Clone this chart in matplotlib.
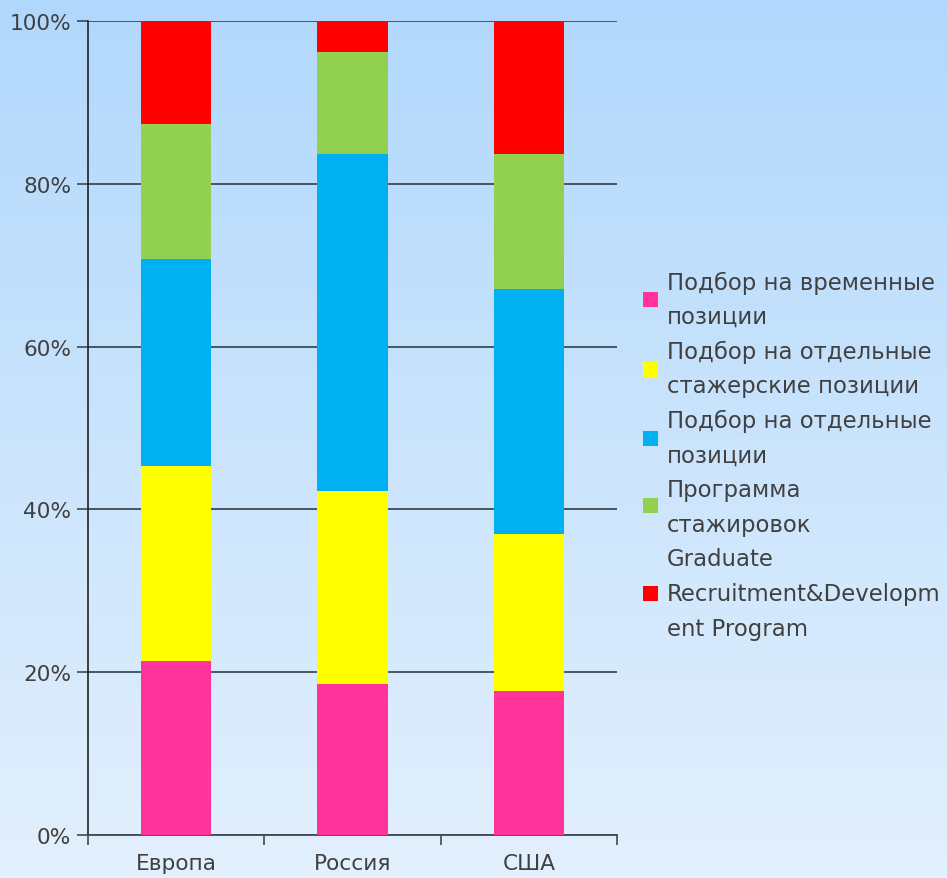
import numpy as np
import matplotlib
matplotlib.use("Agg")
import matplotlib.pyplot as plt
from matplotlib.patches import Rectangle
from matplotlib.ticker import FuncFormatter

categories = ["Европа", "Россия", "США"]
series_labels = [
    "Подбор на временные\nпозиции",
    "Подбор на отдельные\nстажерские позиции",
    "Подбор на отдельные\nпозиции",
    "Программа\nстажировок\nGraduate",
    "Recruitment&Developm\nent Program",
]
temp_positions = [21.4, 18.5, 17.7]
intern_positions = [23.9, 23.8, 19.3]
separate_positions = [25.5, 41.3, 30.1]
graduate_program = [16.6, 12.6, 16.6]
rd_program = [12.6, 3.8, 16.3]
series_values = [temp_positions, intern_positions, separate_positions,
                 graduate_program, rd_program]
colors = ["#ff3399", "#ffff00", "#00b0f0", "#92d050", "#ff0000"]
ytick_values = [0, 20, 40, 60, 80, 100]

plt.rcParams['font.family'] = ['DejaVu Sans']
W, H = 947, 879
FS = 15.6
LFS = 16.4
fig = plt.figure(figsize=(W / 100, H / 100), dpi=100)

# gradient background
bg = fig.add_axes([0, 0, 1, 1], zorder=-10)
top = np.array([177, 216, 253]) / 255
bot = np.array([227, 240, 252]) / 255
t = np.linspace(0, 1, 256)[:, None]
grad = (top[None, :] * (1 - t) + bot[None, :] * t)[:, None, :]
bg.imshow(grad, aspect='auto', extent=[0, 1, 0, 1])
bg.axis('off')

ax = fig.add_axes([88 / W, 1 - 836 / H, (617 - 88) / W, (836 - 22) / H])
ax.set_facecolor('none')

x = np.arange(len(categories))
bottom = np.zeros(len(categories))
for vals, col in zip(series_values, colors):
    ax.bar(x, vals, bottom=bottom, width=0.40, color=col, zorder=3, linewidth=0)
    bottom += np.array(vals)

ax.set_xlim(-0.5, len(categories) - 0.5)
ax.set_ylim(0, 100)
ax.set_yticks(ytick_values)
ax.yaxis.set_major_formatter(FuncFormatter(lambda v, p: f"{int(v)}%"))
ax.grid(axis='y', color='#3f4a55', linewidth=1.3, zorder=1)
ax.set_axisbelow(True)

ax.set_xticks(x)
ax.set_xticklabels(categories)
ax.set_xticks(np.arange(len(categories) + 1) - 0.5, minor=True)
ax.tick_params(axis='x', which='major', length=0, pad=13, labelsize=FS, labelcolor='#404040')
ax.tick_params(axis='x', which='minor', length=7, width=1.2, color='#3f4a55', direction='out')
ax.tick_params(axis='y', length=8, width=1.2, color='#3f4a55', labelsize=FS,
               labelcolor='#404040', pad=4)

for s in ['top', 'right']:
    ax.spines[s].set_visible(False)
ax.spines['left'].set_color('#222222')
ax.spines['left'].set_linewidth(1.2)
ax.spines['bottom'].set_color('#3f4a55')
ax.spines['bottom'].set_linewidth(1.3)

# legend drawn manually
line_h = 34.6
y_line = 283
patch_offsets = [0.5, 0.5, 0.5, 0.45, 0.0]
for lab, col, poff in zip(series_labels, colors, patch_offsets):
    lines = lab.split("\n")
    py = y_line + poff * line_h
    fig.patches.append(Rectangle((643 / W, 1 - (py + 8) / H), 15 / W, 15 / H,
                                 transform=fig.transFigure, facecolor=col,
                                 edgecolor='none'))
    for ln in lines:
        fig.text(667 / W, 1 - y_line / H, ln, fontsize=LFS, color='#404040',
                 va='center', ha='left')
        y_line += line_h

fig.savefig("out.png", dpi=100)
